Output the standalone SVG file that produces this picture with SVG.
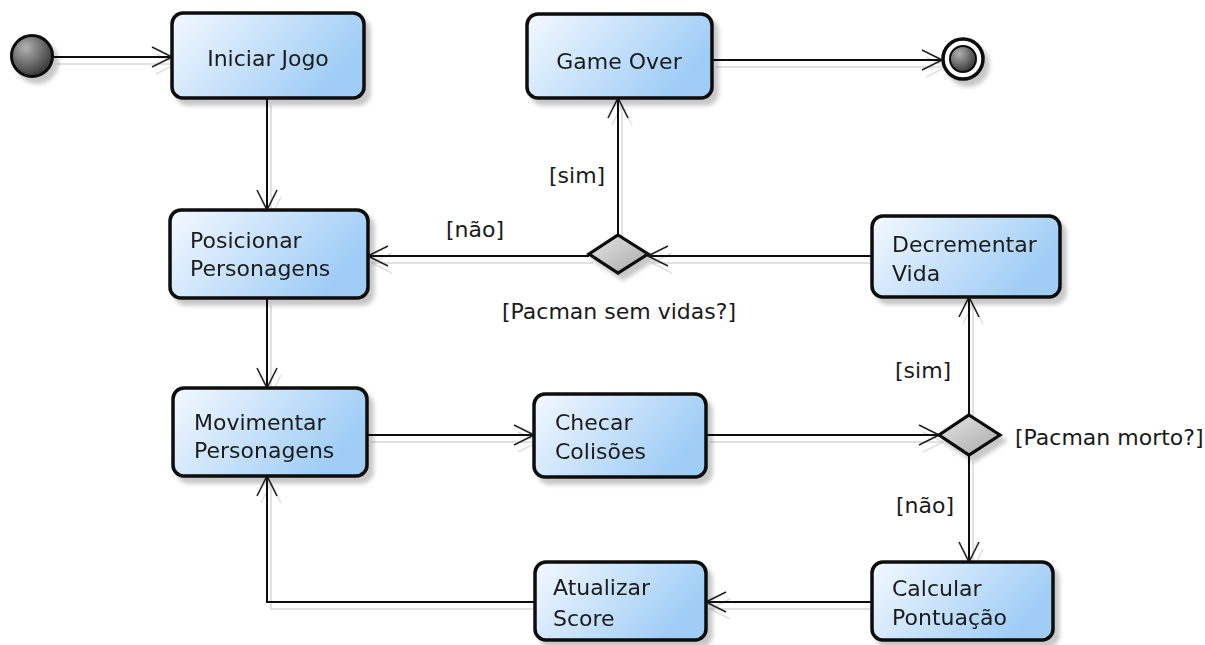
<svg xmlns="http://www.w3.org/2000/svg" width="1205" height="645" viewBox="0 0 1205 645">
<defs>
  <linearGradient id="boxFill" x1="0" y1="0" x2="1" y2="0.4">
    <stop offset="0" stop-color="#f4f9ff"/>
    <stop offset="1" stop-color="#9fcdf6"/>
  </linearGradient>
  <linearGradient id="diaFill" x1="0" y1="0" x2="1" y2="1">
    <stop offset="0" stop-color="#e6e6e6"/>
    <stop offset="1" stop-color="#a8a8a8"/>
  </linearGradient>
  <radialGradient id="dotFill" cx="0.35" cy="0.3" r="0.8">
    <stop offset="0" stop-color="#b0b0b0"/>
    <stop offset="1" stop-color="#2a2a2a"/>
  </radialGradient>
  <filter id="shadow" x="-20%" y="-20%" width="150%" height="150%">
    <feGaussianBlur in="SourceAlpha" stdDeviation="2"/>
    <feOffset dx="5" dy="6" result="o"/>
    <feComponentTransfer><feFuncA type="linear" slope="0.22"/></feComponentTransfer>
    <feMerge><feMergeNode/><feMergeNode in="SourceGraphic"/></feMerge>
  </filter>
  <filter id="lshadow" x="-5%" y="-5%" width="110%" height="110%">
    <feOffset in="SourceAlpha" dx="4" dy="7"/>
    <feComponentTransfer><feFuncA type="linear" slope="0.12"/></feComponentTransfer>
    <feMerge><feMergeNode/><feMergeNode in="SourceGraphic"/></feMerge>
  </filter>
  <marker id="arr" viewBox="0 0 22 22" refX="21" refY="11" markerWidth="22" markerHeight="22" markerUnits="userSpaceOnUse" orient="auto">
    <path d="M1,1 L21,11 L1,21" fill="none" stroke="#222" stroke-width="1.6"/>
  </marker>
  <style>
    .box { fill: url(#boxFill); stroke: #0a0a0a; stroke-width: 3.5; }
    .dia { fill: url(#diaFill); stroke: #0a0a0a; stroke-width: 3.2; stroke-linejoin: miter; }
    .t { font-family: "DejaVu Sans", Verdana, sans-serif; font-size: 22px; fill: #1a1a1a; }
    .c { text-anchor: middle; }
    .ln { fill: none; stroke: #111; stroke-width: 2; marker-end: url(#arr); }
  </style>
</defs>
<rect width="1205" height="645" fill="#ffffff"/>

<g id="connectors" filter="url(#lshadow)">
  <path class="ln" d="M53,57 L172,57"/>
  <path class="ln" d="M267,98 L267,210"/>
  <path class="ln" d="M267,298 L267,388"/>
  <path class="ln" d="M367,435 L534,435"/>
  <path class="ln" d="M706,435 L939,435"/>
  <path class="ln" d="M969,415 L969,297"/>
  <path class="ln" d="M969,455 L969,562"/>
  <path class="ln" d="M872,256 L648,256"/>
  <path class="ln" d="M589,256 L368,256"/>
  <path class="ln" d="M618,235 L618,98"/>
  <path class="ln" d="M712,60 L942,60"/>
  <path class="ln" d="M872,602 L706,602"/>
  <path class="ln" d="M535,602 L267,602 L267,476"/>
</g>

<g id="labels">
  <text class="t" x="549" y="183">[sim]</text>
  <text class="t" x="446" y="237">[não]</text>
  <text class="t" x="502" y="319">[Pacman sem vidas?]</text>
  <text class="t" x="895" y="378">[sim]</text>
  <text class="t" x="896" y="513">[não]</text>
  <text class="t" x="1015" y="445">[Pacman morto?]</text>
</g>

<g id="start" filter="url(#shadow)">
  <circle cx="32" cy="56" r="20.5" fill="url(#dotFill)" stroke="#0a0a0a" stroke-width="3"/>
</g>

<g id="end" filter="url(#shadow)">
  <circle cx="963" cy="59" r="20" fill="#fff" stroke="#0a0a0a" stroke-width="3.5"/>
  <circle cx="963" cy="59" r="13" fill="url(#dotFill)" stroke="#0a0a0a" stroke-width="2"/>
</g>

<g id="iniciar" filter="url(#shadow)">
  <rect class="box" x="172" y="13" width="192" height="85" rx="11"/>
  <text class="t c" x="268" y="66">Iniciar Jogo</text>
</g>

<g id="gameover" filter="url(#shadow)">
  <rect class="box" x="527" y="14" width="185" height="84" rx="11"/>
  <text class="t c" x="619" y="69">Game Over</text>
</g>

<g id="posicionar" filter="url(#shadow)">
  <rect class="box" x="170" y="210" width="198" height="88" rx="11"/>
  <text class="t" x="190" y="248">Posicionar</text>
  <text class="t" x="190" y="276">Personagens</text>
</g>

<g id="decrementar" filter="url(#shadow)">
  <rect class="box" x="872" y="216" width="188" height="81" rx="11"/>
  <text class="t" x="892" y="252">Decrementar</text>
  <text class="t" x="892" y="281">Vida</text>
</g>

<g id="decisao1" filter="url(#shadow)">
  <polygon class="dia" points="618,235 648,254 618,273 589,254"/>
</g>

<g id="movimentar" filter="url(#shadow)">
  <rect class="box" x="173" y="388" width="194" height="88" rx="11"/>
  <text class="t" x="194" y="430">Movimentar</text>
  <text class="t" x="194" y="458">Personagens</text>
</g>

<g id="checar" filter="url(#shadow)">
  <rect class="box" x="534" y="394" width="172" height="83" rx="11"/>
  <text class="t" x="555" y="430">Checar</text>
  <text class="t" x="555" y="459">Colisões</text>
</g>

<g id="decisao2" filter="url(#shadow)">
  <polygon class="dia" points="969,415 1000,435 969,455 939,435"/>
</g>

<g id="calcular" filter="url(#shadow)">
  <rect class="box" x="872" y="562" width="181" height="78" rx="11"/>
  <text class="t" x="892" y="596">Calcular</text>
  <text class="t" x="892" y="625">Pontuação</text>
</g>

<g id="atualizar" filter="url(#shadow)">
  <rect class="box" x="535" y="562" width="171" height="78" rx="11"/>
  <text class="t" x="553" y="595">Atualizar</text>
  <text class="t" x="553" y="626">Score</text>
</g>
</svg>
